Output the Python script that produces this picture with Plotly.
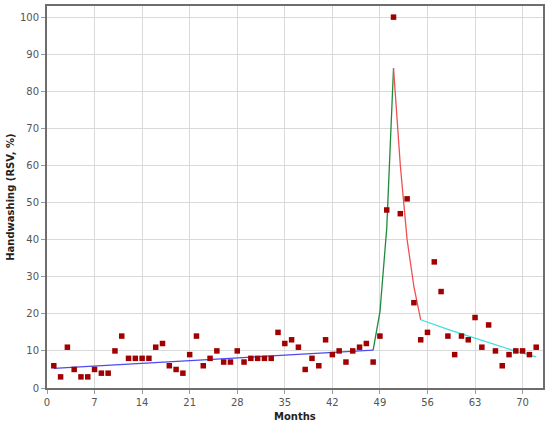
import plotly.graph_objects as go

# observed monthly values (months 1..72)
months = list(range(1, 73))
handwashing = [
    6, 3, 11, 5, 3, 3, 5, 4, 4, 10,
    14, 8, 8, 8, 8, 11, 12, 6, 5, 4,
    9, 14, 6, 8, 10, 7, 7, 10, 7, 8,
    8, 8, 8, 15, 12, 13, 11, 5, 8, 6,
    13, 9, 10, 7, 10, 11, 12, 7, 14, 48,
    100, 47, 51, 23, 13, 15, 34, 26, 14, 9,
    14, 13, 19, 11, 17, 10, 6, 9, 10, 10,
    9, 11,
]

# fitted segments
pre_x = [1, 48]
pre_y = [5.3, 10.2]
rise_x = [48, 49, 50, 51]
rise_y = [10.2, 20.5, 43.0, 86.2]
fall_x = [51, 52, 53, 54, 55]
fall_y = [86.2, 60.0, 40.0, 27.3, 18.4]
post_x = list(range(55, 73))
post_y = [18.4, 17.7, 17.0, 16.4, 15.8, 15.2, 14.6, 14.0, 13.3,
          12.7, 12.2, 11.6, 10.9, 10.4, 9.9, 9.4, 8.9, 8.4]

x_ticks = [0, 7, 14, 21, 28, 35, 42, 49, 56, 63, 70]
y_ticks = [0, 10, 20, 30, 40, 50, 60, 70, 80, 90, 100]

fig = go.Figure()

segments = [
    (pre_x, pre_y, '#4b4bf0'),
    (rise_x, rise_y, '#1f8a3c'),
    (fall_x, fall_y, '#f05050'),
    (post_x, post_y, '#3ee0dc'),
]
for xs, ys, color in segments:
    fig.add_trace(go.Scatter(
        x=xs, y=ys, mode='lines',
        line=dict(color=color, width=1.3),
        showlegend=False, hoverinfo='skip'
    ))

fig.add_trace(go.Scatter(
    x=months, y=handwashing, mode='markers',
    marker=dict(symbol='square', size=5.5, color='#a00000',
                line=dict(width=0)),
    showlegend=False
))

axis_common = dict(
    showgrid=True, gridcolor='#d9d9d9', gridwidth=1,
    showline=True, linecolor='#6e6e6e', linewidth=2, mirror=True,
    ticks='outside', ticklen=4, tickcolor='#9a9a9a',
    tickfont=dict(family='DejaVu Sans', size=10, color='#555555'),
    zeroline=False, automargin=False,
)

fig.update_xaxes(range=[0, 73], tickvals=x_ticks, **axis_common)
fig.update_yaxes(range=[0, 103], tickvals=y_ticks, **axis_common)

title_font = dict(family='DejaVu Sans', size=10, color='#222222')
fig.add_annotation(
    text='<b>Months</b>', xref='paper', yref='paper',
    x=0.5, y=-0.075, yanchor='middle', showarrow=False, font=title_font
)
fig.add_annotation(
    text='<b>Handwashing (RSV, %)</b>', xref='paper', yref='paper',
    x=-0.075, y=0.5, xanchor='center', textangle=-90,
    showarrow=False, font=title_font
)

fig.update_layout(
    width=550, height=426,
    margin=dict(l=47, r=7, t=6, b=38),
    plot_bgcolor='white', paper_bgcolor='white',
)

# page body has a default 8px margin; drop it so the figure sits at 0,0
fig.write_html("out.html", config={'displayModeBar': False},
               post_script="document.body.style.margin='0';")
